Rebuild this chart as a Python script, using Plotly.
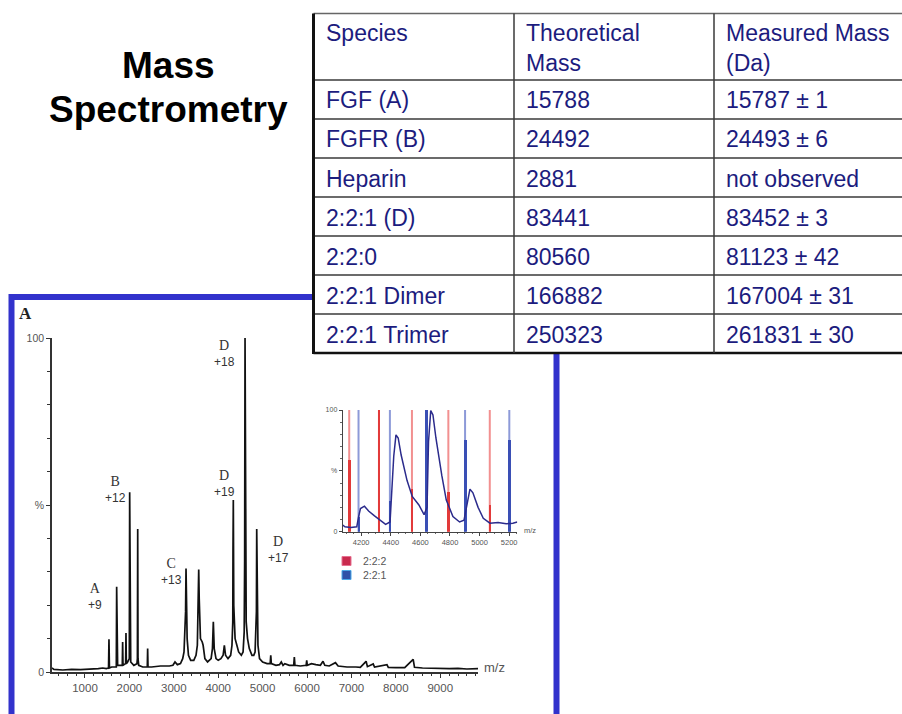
import plotly.graph_objects as go

W, H = 902, 714

def px(x):
    return x / W

def py(y):
    return 1 - y / H

# ---------------- data ----------------
# main spectrum profile (m/z, relative intensity %)
main_mz = [257, 300, 500, 700, 900, 1100, 1300, 1400, 1480,
           1530, 1540, 1550, 1600, 1650,
           1705, 1713, 1720, 1728, 1735, 1780,
           1840, 1848, 1856, 1915, 1923, 1931, 1960, 1985,
           1998, 2006, 2014, 2030, 2100,
           2170, 2180, 2187, 2194, 2210, 2300,
           2403, 2411, 2419, 2500, 2700, 2900, 2980, 3027, 3080, 3150, 3200,
           3230, 3255, 3265, 3275, 3285, 3300, 3330, 3380, 3450, 3500,
           3530, 3548, 3561, 3572, 3600, 3640, 3660, 3700, 3760,
           3840, 3870, 3890, 3910, 3950, 4000, 4060,
           4110, 4138, 4165, 4220, 4280,
           4310, 4328, 4333, 4340, 4350, 4380, 4420, 4460, 4520,
           4560, 4585, 4595, 4604, 4612, 4618, 4630, 4660, 4700, 4760, 4800,
           4830, 4852, 4860, 4867, 4875, 4895, 4930, 5000, 5100,
           5170, 5183, 5196, 5300, 5380, 5420, 5460, 5500, 5600,
           5700, 5714, 5728, 5850, 5980, 5993, 6006, 6100, 6200, 6300,
           6360, 6400, 6500, 6640, 6700, 6900, 7100, 7200,
           7330, 7360, 7490, 7520, 7800, 7830, 8000, 8200, 8390, 8420,
           8600, 8800, 9000, 9200, 9400, 9600, 9850]
main_pct = [1.2, 0.8, 0.6, 0.8, 0.7, 0.8, 1.0, 1.2, 1.0,
            1.2, 9.8, 1.2, 1.5, 1.5,
            1.5, 25.5, 2.0, 10.0, 2.0, 2.0,
            2.0, 9.0, 2.0, 2.5, 11.7, 2.5, 3.0, 4.0,
            4.0, 53.8, 4.0, 3.0, 2.0,
            2.5, 4.0, 42.8, 4.0, 2.0, 1.5,
            1.5, 7.0, 1.5, 1.5, 1.8, 1.8, 2.0, 3.0, 2.2, 2.5, 4.0,
            6.0, 12.0, 18.0, 31.0, 18.0, 10.0, 5.0, 3.5, 3.5, 5.0,
            8.0, 20.0, 30.7, 22.0, 10.0, 9.0, 8.0, 4.0, 3.0,
            4.0, 7.0, 15.0, 7.0, 4.0, 3.5, 4.0,
            5.0, 8.0, 5.0, 4.0, 5.0,
            8.0, 15.0, 37.0, 51.5, 20.0, 10.0, 8.0, 6.0, 5.0,
            6.0, 12.0, 33.0, 100.0, 30.0, 51.0, 15.0, 10.0, 7.0, 5.0, 5.0,
            6.0, 12.0, 18.0, 42.8, 18.0, 8.0, 4.0, 3.0, 2.5,
            2.5, 5.0, 2.5, 2.0, 2.2, 3.0, 2.0, 2.5, 2.0,
            2.0, 4.5, 2.0, 1.8, 2.0, 3.5, 2.0, 2.5, 2.2, 2.0,
            3.2, 2.0, 1.8, 2.8, 1.8, 1.5, 1.5, 1.4,
            3.2, 1.6, 2.4, 1.5, 2.2, 1.4, 1.3, 1.3, 3.8, 1.4,
            1.2, 1.1, 1.2, 1.0, 1.1, 0.9, 1.0]

# peak annotations
label_species = ["A", "B", "C", "D", "D", "D"]
label_charge = ["+9", "+12", "+13", "+18", "+19", "+17"]
label_mz = [1225, 1687, 2959, 4131, 4131, 5347]
label_pct = [22.5, 54.5, 30.2, 95.5, 56.3, 36.8]

main_xticks = [1000, 2000, 3000, 4000, 5000, 6000, 7000, 8000, 9000]

# inset spectrum
inset_mz = [4075, 4090, 4130, 4170, 4182, 4195, 4222, 4250, 4290, 4330, 4365,
            4395, 4405, 4420, 4435, 4450, 4470, 4510, 4545, 4590, 4625, 4645,
            4655, 4670, 4685, 4705, 4745, 4775, 4820, 4865, 4895, 4910, 4935,
            4955, 4990, 5025, 5070, 5125, 5180, 5225, 5255]
inset_pct = [5.5, 4.0, 3.5, 4.0, 12.0, 19.0, 21.0, 17.0, 13.0, 9.0, 6.0,
             8.0, 26.0, 62.0, 79.5, 77.0, 63.0, 42.0, 29.0, 22.0, 14.0, 20.0,
             74.0, 99.5, 96.0, 77.0, 46.0, 26.0, 12.5, 8.0, 9.5, 20.0, 35.0,
             32.0, 20.0, 11.0, 7.0, 7.5, 6.5, 7.0, 8.0]

# calculated positions for the two stoichiometries
red_mz = [4119, 4320, 4543, 4789, 5069]     # 2:2:2
red_pct = [59, 100, 35, 33, 22]
blue_mz = [4182, 4394, 4640, 4902, 5201]    # 2:2:1
blue_pct = [12, 25, 100, 75, 75]
legend_names = ["2:2:2", "2:2:1"]

inset_xticks = [4200, 4400, 4600, 4800, 5000, 5200]

# title lines
title_lines = ["Mass", "Spectrometry"]

# table
table_headers = ["Species", "Theoretical<br>Mass", "Measured Mass<br>(Da)"]
species = ["FGF (A)", "FGFR (B)", "Heparin", "2:2:1 (D)", "2:2:0",
           "2:2:1 Dimer", "2:2:1 Trimer"]
theoretical = ["15788", "24492", "2881", "83441", "80560", "166882", "250323"]
measured = ["15787 ± 1", "24493 ± 6", "not observed", "83452 ± 3",
            "81123 ± 42", "167004 ± 31", "261831 ± 30"]

# ---------------- figure ----------------
SANS = "Liberation Sans, Arial, sans-serif"
SERIF = "Liberation Serif, Times New Roman, serif"
NAVY = "#1c1c7e"

fig = go.Figure()

fig.add_trace(go.Scatter(
    x=main_mz, y=main_pct, mode="lines",
    line=dict(color="#111111", width=1.7),
    xaxis="x", yaxis="y", showlegend=False, hoverinfo="skip"))

fig.add_trace(go.Bar(
    x=red_mz, y=red_pct, width=16, marker=dict(color="#e23a3a", line=dict(width=0)),
    xaxis="x2", yaxis="y2", showlegend=False, hoverinfo="skip"))
fig.add_trace(go.Bar(
    x=blue_mz, y=blue_pct, width=16, marker=dict(color="#3a4fb5", line=dict(width=0)),
    xaxis="x2", yaxis="y2", showlegend=False, hoverinfo="skip"))
fig.add_trace(go.Scatter(
    x=inset_mz, y=inset_pct, mode="lines",
    line=dict(color="#2b2b8c", width=1.5),
    xaxis="x2", yaxis="y2", showlegend=False, hoverinfo="skip"))

shapes = []
annotations = []

# inset full-height calculated lines (light)
for m in red_mz:
    shapes.append(dict(type="line", xref="x2", yref="y2 domain", x0=m, x1=m,
                       y0=0, y1=1, line=dict(color="#f29090", width=2), layer="below"))
for m in blue_mz:
    shapes.append(dict(type="line", xref="x2", yref="y2 domain", x0=m, x1=m,
                       y0=0, y1=1, line=dict(color="#8d9ad8", width=2), layer="below"))

# blue frame around panel A
shapes.append(dict(type="rect", xref="paper", yref="paper",
                   x0=px(11.5), x1=px(556.5), y0=py(297), y1=py(740),
                   line=dict(color="#3232cc", width=6), fillcolor="rgba(0,0,0,0)"))

# table background
TL, TR = 313.5, 930
row_y = [13.5, 80, 119, 158, 197, 236, 275, 314, 353]
col_x = [TL, 514, 714]
shapes.append(dict(type="rect", xref="paper", yref="paper",
                   x0=px(TL), x1=px(TR), y0=py(row_y[0]), y1=py(row_y[-1]),
                   fillcolor="white", line=dict(width=0)))
for i, y in enumerate(row_y):
    if i == 0:
        lw, lc = 1.5, "#666666"
    elif i == len(row_y) - 1:
        lw, lc = 2.5, "#111111"
    else:
        lw, lc = 1.5, "#3a3a3a"
    shapes.append(dict(type="line", xref="paper", yref="paper",
                       x0=px(TL), x1=px(TR), y0=py(y), y1=py(y),
                       line=dict(color=lc, width=lw)))
shapes.append(dict(type="line", xref="paper", yref="paper",
                   x0=px(TL), x1=px(TL), y0=py(row_y[0]), y1=py(row_y[-1] + 1),
                   line=dict(color="#111111", width=3)))
for cx in col_x[1:]:
    shapes.append(dict(type="line", xref="paper", yref="paper",
                       x0=px(cx), x1=px(cx), y0=py(row_y[0]), y1=py(row_y[-1]),
                       line=dict(color="#3a3a3a", width=1.5)))

text_x = [324, 524, 724]
for j, htxt in enumerate(table_headers):
    annotations.append(dict(xref="paper", yref="paper", x=px(text_x[j]), y=py(18),
                            xanchor="left", yanchor="top", text=htxt, align="left",
                            showarrow=False, font=dict(family=SANS, size=23, color=NAVY)))
for i in range(len(species)):
    yc = (row_y[i + 1] + row_y[i + 2]) / 2 + 1
    for j, col in enumerate([species, theoretical, measured]):
        annotations.append(dict(xref="paper", yref="paper", x=px(text_x[j]), y=py(yc),
                                xanchor="left", yanchor="middle", text=col[i],
                                showarrow=False, font=dict(family=SANS, size=23, color=NAVY)))

# title (two lines)
for line_text, yy in zip(title_lines, [65, 109]):
    annotations.append(dict(xref="paper", yref="paper", x=px(168), y=py(yy),
                            xanchor="center", yanchor="middle",
                            text=f"<b>{line_text}</b>", showarrow=False,
                            font=dict(family=SANS, size=37, color="black")))

# panel letter
annotations.append(dict(xref="paper", yref="paper", x=px(25.5), y=py(313),
                        xanchor="center", yanchor="middle", text="<b>A</b>",
                        showarrow=False, font=dict(family=SERIF, size=17, color="#222")))

# peak labels
for s, c, m, p in zip(label_species, label_charge, label_mz, label_pct):
    annotations.append(dict(xref="x", yref="y", x=m, y=p, xanchor="center", yanchor="middle",
                            text=f"<span style='font-family:Liberation Serif;font-size:14px'>{s}</span><br>{c}",
                            showarrow=False, align="center",
                            font=dict(family=SANS, size=12, color="#333")))

# m/z labels
annotations.append(dict(xref="paper", yref="paper", x=px(482), y=py(667),
                        xanchor="left", yanchor="middle", text="m/z", showarrow=False,
                        font=dict(family=SANS, size=13, color="#555")))
annotations.append(dict(xref="paper", yref="paper", x=px(522), y=py(530),
                        xanchor="left", yanchor="middle", text="m/z", showarrow=False,
                        font=dict(family=SANS, size=7.5, color="#555")))

# inset legend
leg_colors = [("#c92a4e", "#e67090"), ("#2f52a8", "#4aa8e8")]
leg_y = [561, 575]
for name, (fc, lc), yy in zip(legend_names, leg_colors, leg_y):
    shapes.append(dict(type="rect", xref="paper", yref="paper",
                       x0=px(342), x1=px(351), y0=py(yy - 4.5), y1=py(yy + 4.5),
                       fillcolor=fc, line=dict(color=lc, width=1)))
    annotations.append(dict(xref="paper", yref="paper", x=px(361), y=py(yy),
                            xanchor="left", yanchor="middle", text=name, showarrow=False,
                            font=dict(family=SANS, size=10.5, color="#555")))

fig.update_layout(
    width=W, height=H, margin=dict(l=0, r=0, t=0, b=0, pad=0, autoexpand=False),
    paper_bgcolor="white", plot_bgcolor="rgba(0,0,0,0)",
    barmode="overlay", bargap=0,
    showlegend=False,
    xaxis=dict(domain=[px(52), px(478)], range=[257, 9850], anchor="y", automargin=False,
               showline=True, linecolor="#333", linewidth=1.5,
               showgrid=False, zeroline=False,
               tickvals=main_xticks, ticks="outside", ticklen=4, tickcolor="#333",
               minor=dict(dtick=200, ticks="outside", ticklen=2, tickcolor="#333"),
               tickfont=dict(family=SANS, size=11.5, color="#555")),
    yaxis=dict(domain=[py(672), py(338)], range=[0, 100], anchor="x", automargin=False,
               showline=True, linecolor="#333", linewidth=1.5,
               showgrid=False, zeroline=False,
               tickvals=[0, 50, 100], ticktext=["0", "%", "100"],
               ticks="outside", ticklen=4, tickcolor="#333",
               minor=dict(dtick=10, ticks="outside", ticklen=3, tickcolor="#333"),
               tickfont=dict(family=SANS, size=10.5, color="#555")),
    xaxis2=dict(domain=[px(342.7), px(517.3)], range=[4075, 5255], anchor="y2", automargin=False,
                showline=True, linecolor="#444", linewidth=1,
                showgrid=False, zeroline=False,
                tickvals=inset_xticks, ticks="outside", ticklen=3, tickcolor="#444",
                minor=dict(dtick=50, ticks="outside", ticklen=1.5, tickcolor="#666"),
                tickfont=dict(family=SANS, size=7.5, color="#555")),
    yaxis2=dict(domain=[py(531.7), py(410)], range=[0, 100], anchor="x2", automargin=False,
                showline=True, linecolor="#444", linewidth=1,
                showgrid=False, zeroline=False,
                tickvals=[0, 50, 100], ticktext=["0", "%", "100"],
                ticks="outside", ticklen=3, tickcolor="#444",
                minor=dict(dtick=10, ticks="outside", ticklen=1.5, tickcolor="#666"),
                tickfont=dict(family=SANS, size=7, color="#555")),
    shapes=shapes, annotations=annotations,
)

fig.write_html("out.html", config={"displayModeBar": False},
               post_script="document.body.style.margin='0px';document.body.style.overflow='hidden';")
